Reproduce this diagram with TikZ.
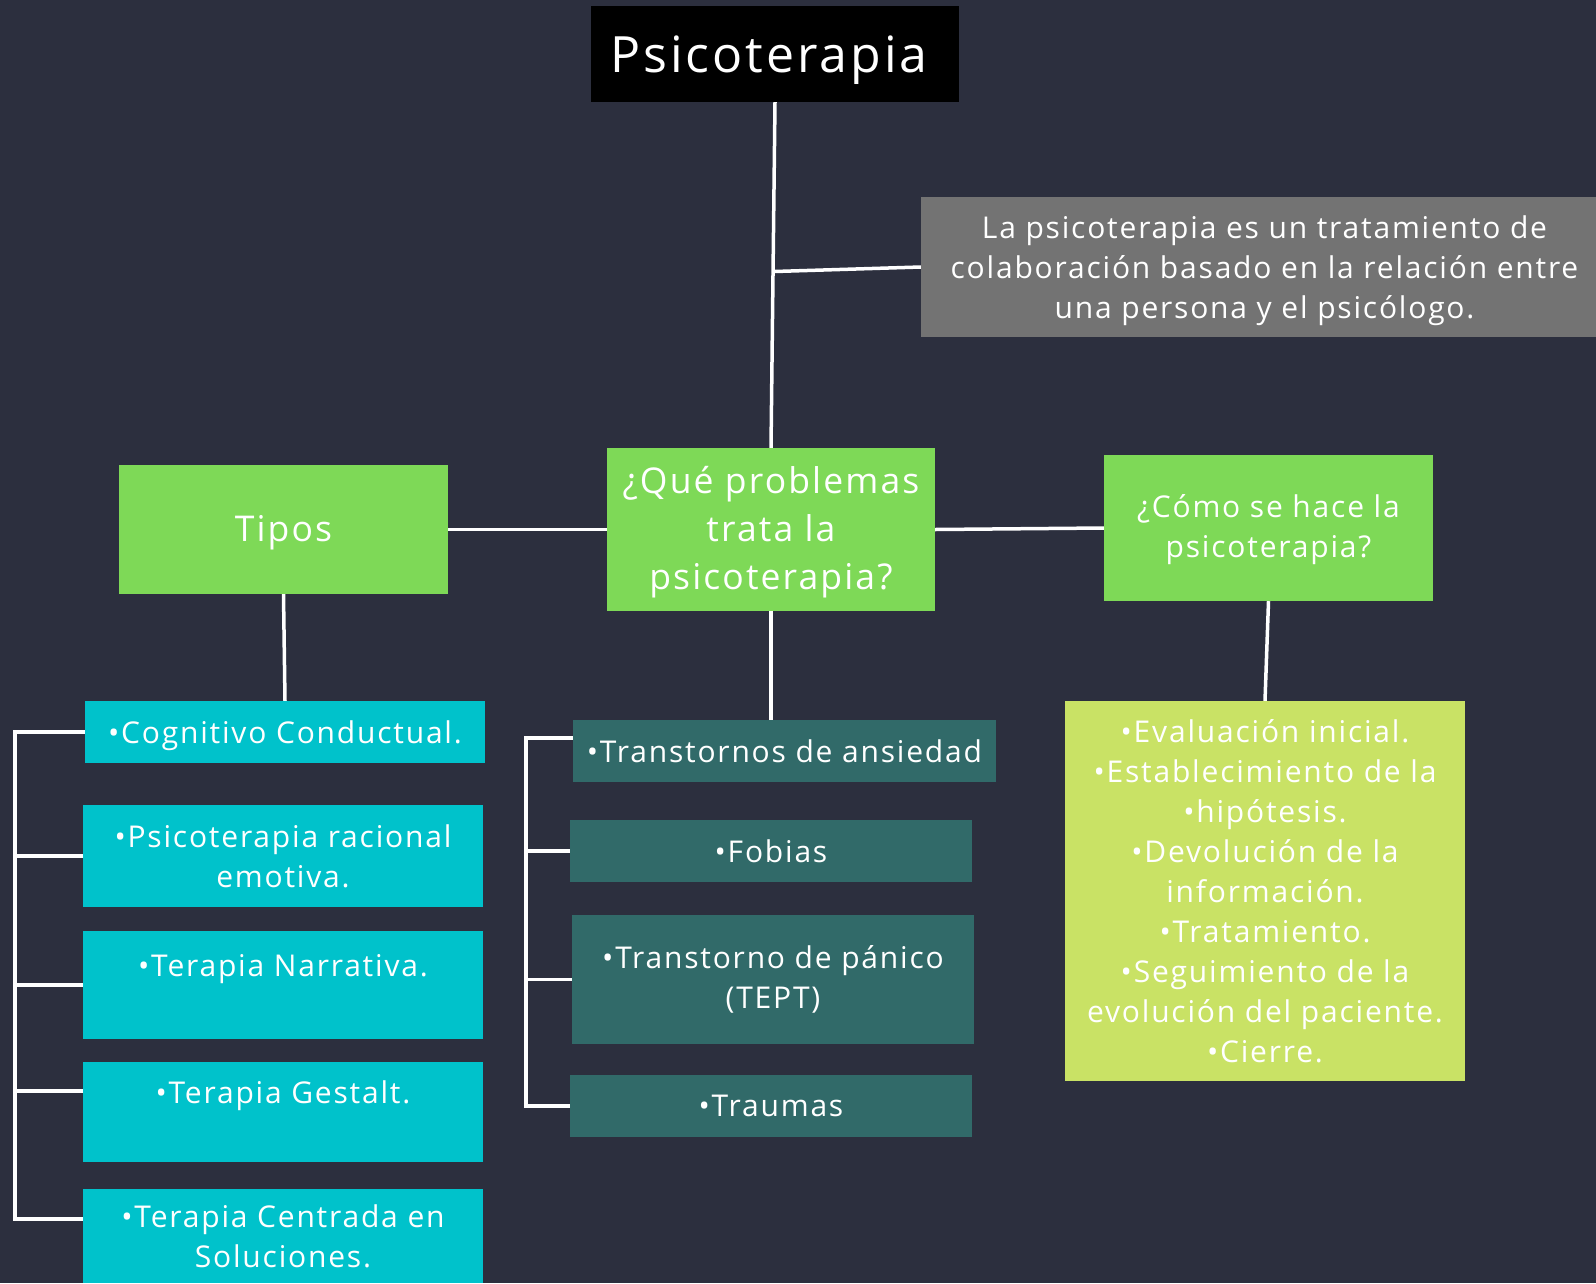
\documentclass[tikz,border=0pt]{standalone}
\usepackage{fontspec}
\setmainfont{Open Sans}[LetterSpace=6]
\usetikzlibrary{calc}
\definecolor{bg}{HTML}{2C2F3E}
\definecolor{cgreen}{HTML}{7ED957}
\definecolor{ccyan}{HTML}{00C2CB}
\definecolor{cteal}{HTML}{316A69}
\definecolor{clgreen}{HTML}{C9E265}
\definecolor{cgray}{HTML}{737373}
\newcommand\mybox[8]{%
  \node[fill=#6, minimum width={(#4-#2)*1pt}, minimum height={(#5-#3)*1pt}] (#1) at ({(#2+#4)/2},{(#3+#5)/2}) {};
  \node[txt,#8] (#1t) at (#1.center) {#7};}
\begin{document}
\begin{tikzpicture}[x=1pt,y=-1pt,
  every node/.style={inner sep=0pt},
  txt/.style={font=\fontsize{30}{40}\selectfont, text=white, align=center},
  big/.style={font=\fontsize{35.5}{48}\selectfont},
  conn/.style={draw=white, line width=3.5pt}]
\fill[bg] (0,0) rectangle (1596,1283);
\useasboundingbox (0,0) rectangle (1596,1283);
% title
\mybox{title}{591}{6}{959}{102}{black}{Psicoterapia}{font=\fontsize{50}{58}\selectfont, xshift=-6pt, yshift=-6pt}
% gray
\mybox{gray}{921}{197}{1596}{337}{cgray}{La psicoterapia es un tratamiento de\\colaboración basado en la relación entre\\una persona y el psicólogo.}{xshift=6pt, yshift=-4pt}
% level 2
\mybox{tipos}{119}{465}{448}{594}{cgreen}{Tipos}{big, yshift=-3pt}
\mybox{que}{607}{448}{935}{611}{cgreen}{¿Qué problemas\\trata la\\psicoterapia?}{big, yshift=-3pt}
\mybox{como}{1104}{455}{1433}{601}{cgreen}{¿Cómo se hace la\\psicoterapia?}{yshift=-2pt}
% cyan
\mybox{cb1}{85}{701}{485}{763}{ccyan}{•Cognitivo Conductual.}{yshift=-4pt}
\mybox{cb2}{83}{805}{483}{907}{ccyan}{•Psicoterapia racional\\emotiva.}{}
\mybox{cb3}{83}{931}{483}{1039}{ccyan}{•Terapia Narrativa.\\\mbox{}}{}
\mybox{cb4}{83}{1062}{483}{1162}{ccyan}{•Terapia Gestalt.\\\mbox{}}{}
\mybox{cb5}{83}{1189}{483}{1283}{ccyan}{•Terapia Centrada en\\Soluciones.}{}
% teal
\mybox{tb1}{573}{720}{996}{782}{cteal}{•Transtornos de ansiedad}{}
\mybox{tb2}{570}{820}{972}{882}{cteal}{•Fobias}{}
\mybox{tb3}{572}{915}{974}{1044}{cteal}{•Transtorno de pánico\\(TEPT)}{}
\mybox{tb4}{570}{1075}{972}{1137}{cteal}{•Traumas}{}
% light green
\mybox{lg}{1065}{701}{1465}{1081}{clgreen}{•Evaluación inicial.\\•Establecimiento de la\\•hipótesis.\\•Devolución de la\\información.\\•Tratamiento.\\•Seguimiento de la\\evolución del paciente.\\•Cierre.}{}
% connectors
\draw[conn] (title.south) -- (que.north);
\draw[conn] ($(title.south)!0.49!(que.north)$) -- (gray.west);
\draw[conn] (tipos.east) -- (que.west);
\draw[conn] (que.east) -- (como.west);
\draw[conn] (tipos.south) -- (cb1.north);
\draw[conn] (que.south) -- (que.south |- tb1.north);
\draw[conn] (como.south) -- (lg.north);
\coordinate (lb) at (15,0);
\draw[conn] (cb1.west) -- (cb1.west -| lb) -- ([yshift=17pt]cb5.west -| lb) -- ([yshift=17pt]cb5.west);
\draw[conn] (cb2.west) -- (cb2.west -| lb);
\draw[conn] (cb3.west) -- (cb3.west -| lb);
\draw[conn] ([yshift=21pt]cb4.west) -- ([yshift=21pt]cb4.west -| lb);
\coordinate (cbk) at (526,0);
\draw[conn] ([yshift=13pt]tb1.west) -- ([yshift=13pt]tb1.west -| cbk) -- (tb4.west -| cbk) -- (tb4.west);
\draw[conn] (tb2.west) -- (tb2.west -| cbk);
\draw[conn] (tb3.west) -- (tb3.west -| cbk);
\end{tikzpicture}
\end{document}
